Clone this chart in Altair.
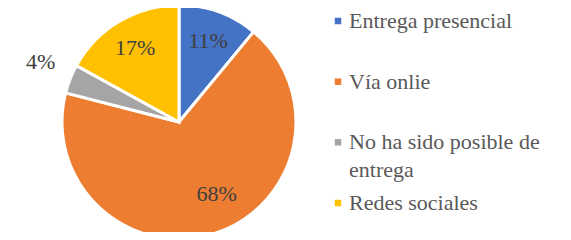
import altair as alt
import pandas as pd

categories = ["Entrega presencial", "Vía onlie", "No ha sido posible de entrega", "Redes sociales"]
legend_labels = ["Entrega presencial", "Vía onlie", "No ha sido posible de\nentrega", "Redes sociales"]
values = [11, 68, 4, 17]
labels = ["11%", "68%", "4%", "17%"]
colors = ["#4472C4", "#ED7D31", "#A5A5A5", "#FFC000"]

df = pd.DataFrame({
    "cat": categories,
    "leg": legend_labels,
    "val": values,
    "lab": labels,
    "ord": list(range(len(categories))),
})

FONT = "Liberation Serif, Times New Roman, serif"

color = alt.Color(
    "cat:N",
    scale=alt.Scale(domain=categories, range=colors),
    legend=None,
)

cx = alt.value(171)
cy = alt.value(114)

base = alt.Chart(df).encode(
    theta=alt.Theta("val:Q", stack=True),
    order=alt.Order("ord:Q"),
)

arcs = base.mark_arc(outerRadius=117, stroke="white", strokeWidth=3).encode(
    color=color, x=cx, y=cy
)


def label_layer(which, radius, dx=0, dy=0):
    return base.mark_text(
        radius=radius, font=FONT, fontSize=22, color="#404040", dx=dx, dy=dy
    ).encode(
        text="lab:N", x=cx, y=cy,
        opacity=alt.condition(
            alt.FieldOneOfPredicate(field="lab", oneOf=which), alt.value(1), alt.value(0)
        ),
    )


small_inside = label_layer(["11%", "17%"], 86)
big_inside = label_layer(["68%"], 86, dx=11, dy=-10)
outside = label_layer(["4%"], 150, dx=1, dy=-5)

leg_y = alt.Y(
    "cat:N",
    scale=alt.Scale(type="point", domain=categories, range=[13, 195], padding=0),
    axis=None,
)

leg_sym = alt.Chart(df).mark_square(size=42, opacity=1).encode(
    x=alt.value(330), y=leg_y, color=color
)

leg_txt = alt.Chart(df).mark_text(
    font=FONT, fontSize=22, color="#595959", align="left", baseline="alphabetic",
    dy=7, lineBreak="\n", lineHeight=28,
).encode(x=alt.value(341), y=leg_y, text="leg:N")

chart = alt.layer(arcs, small_inside, big_inside, outside, leg_sym, leg_txt).properties(
    width=555, height=224, padding=0, autosize=alt.AutoSizeParams(type="none")
).configure_view(stroke=None)

chart.save("out.html", embed_options={"renderer": "svg", "actions": False})
